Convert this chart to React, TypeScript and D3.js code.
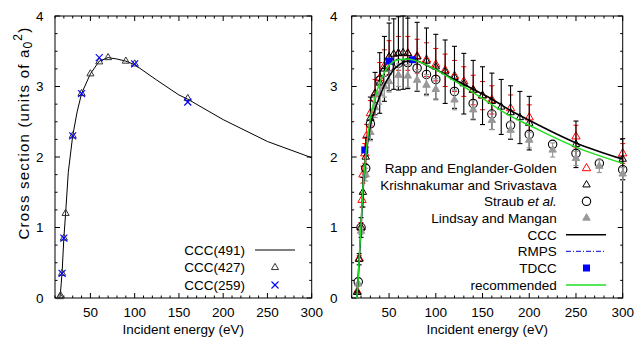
import React from "react";
import * as d3 from "d3";

// ---------- Left panel data ----------
const ccc491E = [15.4, 16, 17, 18, 20, 22, 25, 30, 35, 40, 50, 60, 70, 80, 90, 100, 125, 150, 160, 200, 250, 300];
const ccc491V = [0, 0.05, 0.2, 0.36, 0.85, 1.2, 1.78, 2.3, 2.64, 2.9, 3.18, 3.36, 3.41, 3.39, 3.36, 3.31, 3.09, 2.88, 2.82, 2.53, 2.22, 1.99];
const ccc427E = [15.5, 16.5, 18, 20, 22, 30, 40, 50, 60, 70, 90, 100, 160];
const ccc427V = [0.02, 0.03, 0.35, 0.85, 1.2, 2.3, 2.9, 3.18, 3.35, 3.41, 3.36, 3.32, 2.83];
const ccc259E = [18, 20, 30, 40, 60, 100, 160];
const ccc259V = [0.35, 0.85, 2.3, 2.9, 3.41, 3.32, 2.78];

// ---------- Right panel data ----------
const rappE = [16, 18, 20, 21, 22, 24, 26, 30, 35, 40, 45, 50, 60, 70, 80, 90, 100, 110, 120, 130, 140, 150, 160, 180, 200, 250, 300];
const rappV = [0.09, 0.56, 1.0, 1.39, 1.75, 2.05, 2.3, 2.62, 2.9, 3.12, 3.29, 3.41, 3.47, 3.47, 3.43, 3.38, 3.31, 3.23, 3.15, 3.07, 2.95, 2.87, 2.81, 2.69, 2.56, 2.29, 2.05];
const rappErr = [0.01, 0.04, 0.07, 0.1, 0.12, 0.14, 0.16, 0.18, 0.2, 0.22, 0.23, 0.24, 0.24, 0.24, 0.24, 0.24, 0.23, 0.23, 0.22, 0.21, 0.21, 0.2, 0.2, 0.19, 0.18, 0.16, 0.14];

const kriE = [16, 18, 20, 22, 25, 30, 35, 40, 45, 50, 55, 60, 65, 70, 80, 90, 100, 110, 120, 130, 140, 150, 160, 170, 180, 190, 200, 250, 300];
const kriV = [0.08, 0.55, 1.0, 1.5, 2.0, 2.55, 2.9, 3.05, 3.25, 3.42, 3.46, 3.47, 3.48, 3.47, 3.42, 3.36, 3.28, 3.21, 3.13, 3.04, 2.95, 2.87, 2.79, 2.71, 2.63, 2.56, 2.48, 2.18, 1.97];
const kriErr = [0.01, 0.08, 0.14, 0.21, 0.28, 0.3, 0.3, 0.43, 0.46, 0.48, 0.5, 0.52, 0.52, 0.5, 0.49, 0.47, 0.46, 0.45, 0.44, 0.43, 0.42, 0.41, 0.4, 0.39, 0.38, 0.37, 0.38, 0.33, 0.29];

const strE = [17, 20, 25, 30, 35, 40, 45, 50, 60, 70, 80, 90, 100, 120, 140, 160, 180, 200, 225, 250, 275, 300];
const strV = [0.23, 1.0, 1.84, 2.47, 2.83, 3.09, 3.2, 3.28, 3.33, 3.34, 3.26, 3.17, 3.1, 2.93, 2.76, 2.61, 2.45, 2.32, 2.18, 2.05, 1.91, 1.82];

const linE = [17, 20, 25, 30, 35, 40, 45, 50, 60, 70, 80, 90, 100, 120, 140, 160, 180, 200, 225, 250, 275, 300];
const linV = [0.2, 0.95, 1.75, 2.35, 2.7, 2.9, 3.0, 3.07, 3.16, 3.15, 3.09, 3.02, 2.96, 2.81, 2.67, 2.52, 2.38, 2.24, 2.1, 1.98, 1.87, 1.76];
const linErr = [0.01, 0.05, 0.09, 0.12, 0.14, 0.15, 0.15, 0.15, 0.16, 0.16, 0.15, 0.15, 0.15, 0.14, 0.13, 0.13, 0.12, 0.11, 0.1, 0.1, 0.09, 0.09];

const cccRE = [15.4, 17, 18, 20, 22, 24, 27, 30, 35, 40, 45, 50, 55, 60, 70, 80, 90, 100, 120, 140, 160, 180, 200, 250, 300];
const cccRV = [0, 0.3, 0.52, 1.0, 1.5, 1.85, 2.2, 2.45, 2.68, 2.86, 3.02, 3.14, 3.24, 3.3, 3.36, 3.36, 3.3, 3.24, 3.1, 2.96, 2.82, 2.66, 2.52, 2.2, 1.97];

const rmpsE = [15.4, 17, 18, 20, 22, 25, 30];
const rmpsV = [0, 0.3, 0.55, 1.02, 1.52, 2.0, 2.5];

const tdccE = [24, 50, 75];
const tdccV = [2.1, 3.36, 3.38];

const recE = [15.4, 17, 18, 20, 22, 25, 30, 35, 40, 45, 50, 60, 70, 80, 100, 120, 150, 180, 200, 250, 300];
const recV = [0, 0.3, 0.55, 1.05, 1.55, 2.0, 2.55, 2.85, 3.05, 3.2, 3.3, 3.38, 3.39, 3.36, 3.24, 3.08, 2.83, 2.58, 2.45, 2.14, 1.91];

const xMajor = [50, 100, 150, 200, 250, 300];
const yMajor = [0, 1, 2, 3, 4];

const leftLegend = ["CCC(491)", "CCC(427)", "CCC(259)"];
const rightLegend = ["Rapp and Englander-Golden", "Krishnakumar and Srivastava", "Straub", "Lindsay and Mangan", "CCC", "RMPS", "TDCC", "recommended"];

const FONT = "'Liberation Sans', Arial, Helvetica, sans-serif";
const FS = 13.5;

const y = d3.scaleLinear().domain([0, 4]).range([298, 16]);
const xL = d3.scaleLinear().domain([10, 300]).range([55, 311.7]);
const xR = d3.scaleLinear().domain([10, 300]).range([351.7, 622.7]);

const zip = (e: number[], v: number[]) => e.map((d, i) => [d, v[i]] as [number, number]);

function Frame({ x, labelX }: { x: d3.ScaleLinear<number, number>; labelX: number }) {
  const [x0, x1] = x.range();
  const [y0, y1] = y.range();
  const minorX = d3.range(10, 301, 10).filter((d) => !xMajor.includes(d));
  const minorY = d3.range(0, 4.001, 0.25).filter((d) => !yMajor.includes(d));
  return (
    <g>
      <rect x={x0} y={y1} width={x1 - x0} height={y0 - y1} fill="none" stroke="#000" strokeWidth={1} />
      {xMajor.map((t) => (
        <g key={"xm" + t}>
          <line x1={x(t)} x2={x(t)} y1={y0} y2={y0 - 5} stroke="#000" />
          <line x1={x(t)} x2={x(t)} y1={y1} y2={y1 + 5} stroke="#000" />
          <text x={x(t)} y={316.5} textAnchor="middle" fontFamily={FONT} fontSize={FS}>{t}</text>
        </g>
      ))}
      {minorX.map((t) => (
        <g key={"xn" + t}>
          <line x1={x(t)} x2={x(t)} y1={y0} y2={y0 - 2.5} stroke="#000" />
          <line x1={x(t)} x2={x(t)} y1={y1} y2={y1 + 2.5} stroke="#000" />
        </g>
      ))}
      {yMajor.map((t) => (
        <g key={"ym" + t}>
          <line x1={x0} x2={x0 + 5} y1={y(t)} y2={y(t)} stroke="#000" />
          <line x1={x1} x2={x1 - 5} y1={y(t)} y2={y(t)} stroke="#000" />
          <text x={labelX} y={y(t) + 4.8} textAnchor="end" fontFamily={FONT} fontSize={FS}>{t}</text>
        </g>
      ))}
      {minorY.map((t) => (
        <g key={"yn" + t}>
          <line x1={x0} x2={x0 + 2.5} y1={y(t)} y2={y(t)} stroke="#000" />
          <line x1={x1} x2={x1 - 2.5} y1={y(t)} y2={y(t)} stroke="#000" />
        </g>
      ))}
      <text x={(x0 + x1) / 2} y={334} textAnchor="middle" fontFamily={FONT} fontSize={FS}>Incident energy (eV)</text>
    </g>
  );
}

const tri = (size: number) => d3.symbol(d3.symbolTriangle, size)() as string;

function Tri({ cx, cy, stroke, fill = "none", size = 26, sw = 1 }: any) {
  return <path d={tri(size)} transform={`translate(${cx},${cy})`} fill={fill} stroke={stroke} strokeWidth={sw} />;
}

function Cross({ cx, cy, r = 3.5, color = "#0000ff" }: any) {
  return (
    <g stroke={color} strokeWidth={1.1}>
      <line x1={cx - r} x2={cx + r} y1={cy - r} y2={cy + r} />
      <line x1={cx - r} x2={cx + r} y1={cy + r} y2={cy - r} />
    </g>
  );
}

function ErrBars({ x, e, v, err, color, sw = 1 }: any) {
  return (
    <g stroke={color} strokeWidth={sw}>
      {e.map((d: number, i: number) => {
        const cx = x(d);
        const t = y(v[i] + err[i]);
        const b = y(Math.max(0, v[i] - err[i]));
        return (
          <g key={i}>
            <line x1={cx} x2={cx} y1={t} y2={b} />
            <line x1={cx - 2.5} x2={cx + 2.5} y1={t} y2={t} />
            <line x1={cx - 2.5} x2={cx + 2.5} y1={b} y2={b} />
          </g>
        );
      })}
    </g>
  );
}

export default function App() {
  const lineL = d3.line<[number, number]>().x((d) => xL(d[0])).y((d) => y(d[1]));
  const lineR = d3.line<[number, number]>().x((d) => xR(d[0])).y((d) => y(d[1]));
  const lineRs = d3.line<[number, number]>().x((d) => xR(d[0])).y((d) => y(d[1])).curve(d3.curveMonotoneX);

  const legLRows = [250, 267.5, 285];
  const legRRows = [168.3, 184.8, 201.3, 218, 234.8, 251.3, 268, 285];
  const lrx = 556.7;
  const lmx = 586.5;
  const YFS = 15;

  return (
    <svg width={636} height={341} style={{ position: "absolute", left: 0, top: 0, background: "#fff" }}>
      <rect width={636} height={341} fill="#fff" />
      {/* ---------- Left panel ---------- */}
      <Frame x={xL} labelX={43.5} />
      <text transform={`translate(28.5,133) rotate(-90)`} textAnchor="middle" fontFamily={FONT} fontSize={YFS} letterSpacing={1.2}>
        Cross section (units of a<tspan fontSize={YFS * 0.8} dy={3}>0</tspan>
        <tspan fontSize={YFS * 0.8} dy={-10}>2</tspan>
        <tspan dy={7}>)</tspan>
      </text>
      <path d={lineL(zip(ccc491E, ccc491V)) as string} fill="none" stroke="#000" strokeWidth={1} />
      {zip(ccc427E, ccc427V).map((d, i) => (
        <Tri key={"a" + i} cx={xL(d[0])} cy={y(d[1])} stroke="#333" size={22} />
      ))}
      {zip(ccc259E, ccc259V).map((d, i) => (
        <Cross key={"b" + i} cx={xL(d[0])} cy={y(d[1])} />
      ))}
      {leftLegend.map((t, i) => (
        <text key={t} x={245} y={legLRows[i] + 4.8} textAnchor="end" fontFamily={FONT} fontSize={FS}>{t}</text>
      ))}
      <line x1={255} x2={295} y1={legLRows[0]} y2={legLRows[0]} stroke="#000" />
      <Tri cx={275} cy={legLRows[1]} stroke="#333" size={22} />
      <Cross cx={275} cy={legLRows[2]} />

      {/* ---------- Right panel ---------- */}
      <Frame x={xR} labelX={337.5} />
      <ErrBars x={xR} e={rappE} v={rappV} err={rappErr} color="#ff0000" />
      {zip(rappE, rappV).map((d, i) => (
        <Tri key={"r" + i} cx={xR(d[0])} cy={y(d[1])} stroke="#ff0000" size={30} />
      ))}
      <ErrBars x={xR} e={kriE} v={kriV} err={kriErr} color="#000" sw={1.1} />
      {zip(kriE, kriV).map((d, i) => (
        <Tri key={"k" + i} cx={xR(d[0])} cy={y(d[1])} stroke="#000" size={24} />
      ))}
      {zip(strE, strV).map((d, i) => (
        <circle key={"s" + i} cx={xR(d[0])} cy={y(d[1])} r={4.2} fill="none" stroke="#000" strokeWidth={1.1} />
      ))}
      <ErrBars x={xR} e={linE} v={linV} err={linErr} color="#999" sw={1.2} />
      {zip(linE, linV).map((d, i) => (
        <Tri key={"l" + i} cx={xR(d[0])} cy={y(d[1])} stroke="#999" fill="#999" size={24} />
      ))}
      <path d={lineRs(zip(cccRE, cccRV)) as string} fill="none" stroke="#000" strokeWidth={1.6} />
      <path d={lineR(zip(rmpsE, rmpsV)) as string} fill="none" stroke="#0000cc" strokeWidth={1} strokeDasharray="5,2,1,2" />
      {zip(tdccE, tdccV).map((d, i) => (
        <rect key={"t" + i} x={xR(d[0]) - 3.5} y={y(d[1]) - 3.5} width={7} height={7} fill="#0000ff" />
      ))}
      <path d={lineRs(zip(recE, recV)) as string} fill="none" stroke="#22dd22" strokeWidth={1.5} />

      {/* right legend */}
      {rightLegend.map((t, i) => (
        <text key={t} x={lrx} y={legRRows[i] + 4.8} textAnchor="end" fontFamily={FONT} fontSize={FS}>
          {t === "Straub" ? (
            <>
              Straub <tspan fontStyle="italic">et al.</tspan>
            </>
          ) : (
            t
          )}
        </text>
      ))}
      <Tri cx={lmx} cy={legRRows[0]} stroke="#ff0000" size={30} />
      <Tri cx={lmx} cy={legRRows[1]} stroke="#000" size={24} />
      <circle cx={lmx} cy={legRRows[2]} r={4.2} fill="none" stroke="#000" strokeWidth={1.1} />
      <Tri cx={lmx} cy={legRRows[3]} stroke="#999" fill="#999" size={24} />
      <line x1={566} x2={606} y1={legRRows[4]} y2={legRRows[4]} stroke="#000" strokeWidth={1.6} />
      <line x1={566} x2={606} y1={legRRows[5]} y2={legRRows[5]} stroke="#0000cc" strokeWidth={1} strokeDasharray="5,2,1,2" />
      <rect x={lmx - 3.5} y={legRRows[6] - 3.5} width={7} height={7} fill="#0000ff" />
      <line x1={566} x2={606} y1={legRRows[7]} y2={legRRows[7]} stroke="#22dd22" strokeWidth={1.5} />
    </svg>
  );
}
